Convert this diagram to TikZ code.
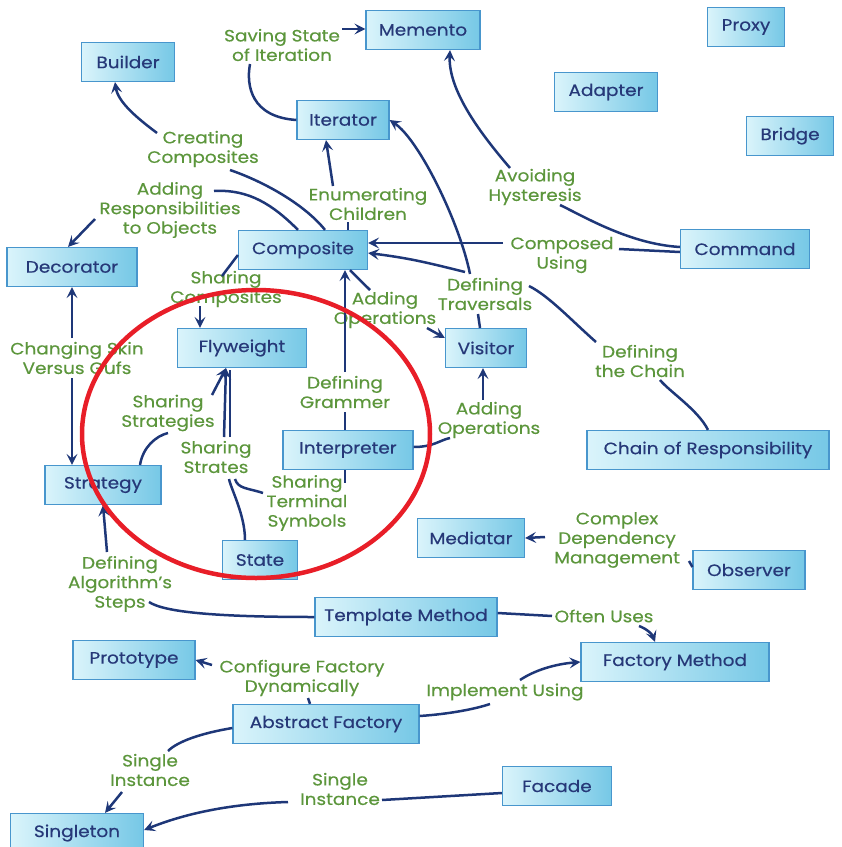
\documentclass[tikz,border=0pt]{standalone}
\usepackage{fontspec}
\setmainfont{Poppins}[FakeStretch=1.12,FakeBold=0.4]
\usepackage{tikz}
\usetikzlibrary{arrows.meta}
\definecolor{boxlt}{RGB}{218,244,251}
\definecolor{boxdk}{RGB}{118,200,230}
\definecolor{boxline}{RGB}{72,150,205}
\definecolor{boxtxt}{RGB}{38,56,120}
\definecolor{lblgreen}{RGB}{92,150,60}
\definecolor{linknavy}{RGB}{30,55,120}
\definecolor{ringred}{RGB}{232,30,40}

\begin{document}
\begin{tikzpicture}[x=1pt,y=-1pt,line width=2.5pt,
  pat/.style={draw=boxline,line width=1.2pt,left color=boxlt,right color=boxdk,
    text=boxtxt,minimum height=39pt,minimum width=#1pt,inner sep=0pt,
    font=\fontsize{16.5pt}{18pt}\selectfont},
  pat/.default=120,
  lbl/.style={text=lblgreen,align=center,inner sep=1pt,
    font=\fontsize{16.5pt}{19.5pt}\selectfont},
  link/.style={draw=linknavy},
  arr/.style={link,-{Stealth[length=11pt,width=11pt,inset=4.5pt]}}]
  \useasboundingbox (0,0) rectangle (842,847);
  % patterns
  \node[pat=114] (memento)  at (423,30)  {Memento};
  \node[pat=77]  (proxy)    at (746,27)  {Proxy};
  \node[pat=93]  (builder)  at (128,62)  {Builder};
  \node[pat=103] (adapter)  at (606,92)  {Adapter};
  \node[pat=92]  (iter)     at (343,120) {Iterator};
  \node[pat=87]  (bridge)   at (790,136) {Bridge};
  \node[pat=129] (comp)     at (303,250) {Composite};
  \node[pat=129] (command)  at (745,249) {Command};
  \node[pat=130] (decor)    at (72,267)  {Decorator};
  \node[pat=129] (fly)      at (242,348) {Flyweight};
  \node[pat=81]  (visitor)  at (486,348) {Visitor};
  \node[pat=130] (interp)   at (348,450) {Interpreter};
  \node[pat=242] (chain)    at (708,450) {Chain of Responsibility};
  \node[pat=116] (strategy) at (103,485) {Strategy};
  \node[pat=107] (mediator) at (471,538) {Mediatar};
  \node[pat=75]  (state)    at (260,560) {State};
  \node[pat=112] (observer) at (749,570) {Observer};
  \node[pat=182] (tmethod)  at (406,617) {Template Method};
  \node[pat=122] (proto)    at (134,660) {Prototype};
  \node[pat=188] (fmethod)  at (675,662) {Factory Method};
  \node[pat=186] (afactory) at (326,724) {Abstract Factory};
  \node[pat=109] (facade)   at (557,786) {Facade};
  \node[pat=133] (single)   at (77,833)  {Singleton};
  % relation labels
  \node[lbl] (lSave)       at (282,45)  {Saving State\\of Iteration};
  \node[lbl] (lCreate)     at (203,149) {Creating\\Composites};
  \node[lbl] (lAddResp)    at (170,210) {Adding\\Responsibilities\\to Objects};
  \node[lbl] (lEnum)       at (368,204) {Enumerating\\Children};
  \node[lbl] (lAvoid)      at (535,187) {Avoiding\\Hysteresis};
  \node[lbl] (lComposed)   at (562,255) {Composed\\Using};
  \node[lbl] (lShareComp)  at (226,289) {Sharing\\Composites};
  \node[lbl] (lAddOps)     at (385,310) {Adding\\Operations};
  \node[lbl] (lTrav)       at (485,294) {Defining\\Traversals};
  \node[lbl] (lChain)      at (640,361) {Defining\\the Chain};
  \node[lbl] (lSkin)       at (77,358)  {Changing Skin\\Versus Gufs};
  \node[lbl] (lGrammer)    at (345,392) {Defining\\Grammer};
  \node[lbl] (lAddOpsV)    at (489,420) {Adding\\Operations};
  \node[lbl] (lStrategies) at (168,413) {Sharing\\Strategies};
  \node[lbl] (lStates)     at (216,457) {Sharing\\Strates};
  \node[lbl] (lTerminal)   at (307,503) {Sharing\\Terminal\\Symbols};
  \node[lbl] (lSteps)      at (120,584) {Defining\\Algorithm's\\Steps};
  \node[lbl] (lComplex)    at (617,540) {Complex\\Dependency\\Management};
  \node[lbl] (lOften)      at (604,616) {Often Uses};
  \node[lbl] (lConfig)     at (302,678) {Configure Factory\\Dynamically};
  \node[lbl] (lImpl)       at (505,692) {Implement Using};
  \node[lbl] (lSingleA)    at (150,770) {Single\\Instance};
  \node[lbl] (lSingleB)    at (340,789) {Single\\Instance};
  % connectors
  \draw[link] (iter.west) .. controls +(-45,-3) and +(-4,22) .. ([shift={(-32,19)}]lSave.center);
  \draw[arr] ([shift={(60,-16)}]lSave.center) -- ([shift={(0,-1)}]memento.west);
  \draw[link] ([shift={(22,0)}]comp.north) .. controls +(-20,-25) and +(35,12) .. ([shift={(27,21)}]lCreate.center);
  \draw[arr] ([shift={(-46,-16)}]lCreate.center) .. controls +(-20,-15) and +(3,20) .. ([shift={(-13,0)}]builder.south);
  \draw[link] ([shift={(-5,0)}]comp.north) .. controls +(-25,-25) and +(35,-2) .. ([shift={(44,-19)}]lAddResp.center);
  \draw[arr] ([shift={(-75,9)}]lAddResp.center) -- ([shift={(-4,0)}]decor.north);
  \draw[link] ([shift={(45,0)}]comp.north) -- ([shift={(-20,18)}]lEnum.center);
  \draw[arr] ([shift={(-35,-18)}]lEnum.center) -- ([shift={(-17,0)}]iter.south);
  \draw[link] ([shift={(0,-2)}]command.west) .. controls +(-50,-3) and +(25,12) .. ([shift={(25,18)}]lAvoid.center);
  \draw[arr] ([shift={(-25,-19)}]lAvoid.center) .. controls +(-30,-35) and +(-2,40) .. ([shift={(27,0)}]memento.south);
  \draw[link] ([shift={(0,3)}]command.west) -- ([shift={(57,-6)}]lComposed.center);
  \draw[arr] ([shift={(-59,-12)}]lComposed.center) -- ([shift={(0,-7)}]comp.east);
  \draw[link] ([shift={(-6,0)}]visitor.north) -- ([shift={(-7,20)}]lTrav.center);
  \draw[arr] ([shift={(-15,-20)}]lTrav.center) .. controls +(-10,-50) and +(30,20) .. (iter.east);
  \draw[link] (chain.north) .. controls +(-10,-20) and +(10,12) .. ([shift={(20,19)}]lChain.center);
  \draw[link] ([shift={(-44,-19)}]lChain.center) .. controls +(-25,-22) and +(20,10) .. ([shift={(44,-8)}]lTrav.center);
  \draw[arr] ([shift={(-20,-22)}]lTrav.center) .. controls +(-40,-10) and +(40,5) .. ([shift={(0,3)}]comp.east);
  \draw[link] ([shift={(47,0)}]comp.south) -- ([shift={(-15,-20)}]lAddOps.center);
  \draw[arr] ([shift={(42,18)}]lAddOps.center) -- ([shift={(0,-10)}]visitor.west);
  \draw[link] ([shift={(-3,0)}]interp.north) -- ([shift={(0,20)}]lGrammer.center);
  \draw[arr] ([shift={(0,-20)}]lGrammer.center) -- ([shift={(42,0)}]comp.south);
  \draw[link] ([shift={(0,-3)}]interp.east) .. controls +(20,0) and +(-10,2) .. ([shift={(-39,18)}]lAddOpsV.center);
  \draw[arr] ([shift={(-6,-20)}]lAddOpsV.center) -- ([shift={(-3,0)}]visitor.south);
  \draw[link] ([shift={(0,5)}]comp.west) -- ([shift={(-4,-13)}]lShareComp.center);
  \draw[arr] ([shift={(-26,17)}]lShareComp.center) -- ([shift={(-42,0)}]fly.north);
  \draw[arr] ([shift={(-5,-20)}]lSkin.center) -- (decor.south);
  \draw[arr] ([shift={(-5,20)}]lSkin.center) -- ([shift={(-31,0)}]strategy.north);
  \draw[link] ([shift={(37,0)}]strategy.north) .. controls +(3,-18) and +(-12,3) .. ([shift={(0,20)}]lStrategies.center);
  \draw[arr] ([shift={(44,-18)}]lStrategies.center) -- ([shift={(-16,0)}]fly.south);
  \draw[link] ([shift={(-15,0)}]state.north) .. controls +(0,-25) and +(2,10) .. ([shift={(13,22)}]lStates.center);
  \draw[link] ([shift={(-44,-10)}]lTerminal.center) .. controls +(-15,-5) and +(3,10) .. ([shift={(19,22)}]lStates.center);
  \draw[arr] ([shift={(8,-20)}]lStates.center) -- ([shift={(-16,0)}]fly.south);
  \draw[link] ([shift={(14,-20)}]lStates.center) -- ([shift={(-12,2)}]fly.south);
  \draw[link] ([shift={(-3,0)}]interp.south) -- ([shift={(38,-20)}]lTerminal.center);
  \draw[link] (tmethod.west) .. controls +(-100,0) and +(15,10) .. ([shift={(29,18)}]lSteps.center);
  \draw[arr] ([shift={(-13,-32)}]lSteps.center) -- (strategy.south);
  \draw[link] ([shift={(0,-4)}]tmethod.east) -- ([shift={(-52,0)}]lOften.center);
  \draw[arr] ([shift={(35,10)}]lOften.center) .. controls +(8,3) and +(-3,-8) .. ([shift={(-20,0)}]fmethod.north);
  \draw[link] ([shift={(0,-3)}]observer.west) -- ([shift={(72,21)}]lComplex.center);
  \draw[arr] ([shift={(-72,-3)}]lComplex.center) -- (mediator.east);
  \draw[link] ([shift={(-16,0)}]afactory.north) -- ([shift={(6,20)}]lConfig.center);
  \draw[arr] ([shift={(-90,-13)}]lConfig.center) -- (proto.east);
  \draw[link] ([shift={(0,-8)}]afactory.east) .. controls +(30,-2) and +(-15,5) .. ([shift={(-15,12)}]lImpl.center);
  \draw[arr] ([shift={(15,-12)}]lImpl.center) .. controls +(15,-10) and +(-25,2) .. (fmethod.west);
  \draw[link] ([shift={(0,4)}]afactory.west) .. controls +(-30,5) and +(10,-10) .. ([shift={(18,-19)}]lSingleA.center);
  \draw[arr] ([shift={(-28,22)}]lSingleA.center) -- ([shift={(28,0)}]single.north);
  \draw[link] ([shift={(0,7)}]facade.west) -- ([shift={(42,11)}]lSingleB.center);
  \draw[arr] ([shift={(-52,13)}]lSingleB.center) .. controls +(-70,2) and +(30,-12) .. ([shift={(0,-3)}]single.east);
  % ring round the sharing group
  \draw[ringred,line width=4.5pt] (256,434) ellipse [x radius=174, y radius=144];
\end{tikzpicture}
\end{document}
